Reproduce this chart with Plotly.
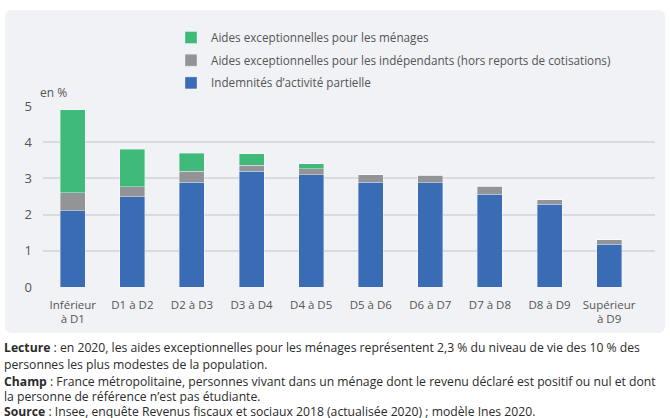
import plotly.graph_objects as go

categories = ["Inférieur<br>à D1", "D1 à D2", "D2 à D3", "D3 à D4", "D4 à D5",
              "D5 à D6", "D6 à D7", "D7 à D8", "D8 à D9", "Supérieur<br>à D9"]
activite_partielle = [2.1, 2.5, 2.9, 3.2, 3.1, 2.9, 2.88, 2.56, 2.28, 1.18]
independants = [0.5, 0.27, 0.3, 0.16, 0.17, 0.2, 0.21, 0.23, 0.13, 0.13]
menages = [2.3, 1.03, 0.5, 0.32, 0.14, 0, 0, 0, 0, 0]

series_names = ["Indemnités d’activité partielle",
                "Aides exceptionnelles pour les indépendants (hors reports de cotisations)",
                "Aides exceptionnelles pour les ménages"]
colors = ["#3a6cb5", "#929497", "#3fba7a"]
legend_ranks = [3, 2, 1]

W, H = 670, 418
ML, MR, MT, MB = 43, 15, 106, 131
PW, PH = W - ML - MR, H - MT - MB


def px(x):
    return (x - ML) / PW


def py(y):
    return (H - MB - y) / PH


lab = "Open Sans, Noto Sans, sans-serif"
body = "Open Sans, Noto Sans, sans-serif"

fig = go.Figure()
for name, vals, col, rk in zip(series_names, [activite_partielle, independants, menages], colors, legend_ranks):
    fig.add_trace(go.Bar(x=categories, y=vals, name=name, legendgroup=name, legendrank=rk,
                         marker=dict(color=col, line=dict(width=0.8, color="rgba(255,255,255,0.45)"))))

# rounded panel
x0, x1, y0, y1, r = 5, 665, 10, 333, 7
path = (f"M {px(x0 + r)},{py(y0)} L {px(x1 - r)},{py(y0)} Q {px(x1)},{py(y0)} {px(x1)},{py(y0 + r)} "
        f"L {px(x1)},{py(y1 - r)} Q {px(x1)},{py(y1)} {px(x1 - r)},{py(y1)} "
        f"L {px(x0 + r)},{py(y1)} Q {px(x0)},{py(y1)} {px(x0)},{py(y1 - r)} "
        f"L {px(x0)},{py(y0 + r)} Q {px(x0)},{py(y0)} {px(x0 + r)},{py(y0)} Z")
fig.add_shape(type="path", path=path, xref="paper", yref="paper",
              fillcolor="#f0f2f5", line=dict(width=0), layer="below")

annotations = [dict(text="en %", x=px(38), y=py(92), xref="paper", yref="paper",
                    xanchor="left", yanchor="middle", showarrow=False,
                    font=dict(family=lab, size=12, color="#555"))]

footer = [
    (347, "<b>Lecture</b> : en 2020, les aides exceptionnelles pour les ménages représentent 2,3 % du niveau de vie des 10 % des"),
    (364, "personnes les plus modestes de la population."),
    (381, "<b>Champ</b> : France métropolitaine, personnes vivant dans un ménage dont le revenu déclaré est positif ou nul et dont"),
    (396.5, "la personne de référence n’est pas étudiante."),
    (411, "<b>Source</b> : Insee, enquête Revenus fiscaux et sociaux 2018 (actualisée 2020) ; modèle Ines 2020."),
]
for yy, t in footer:
    annotations.append(dict(text=t, x=px(2), y=py(yy), xref="paper", yref="paper",
                            xanchor="left", yanchor="middle", showarrow=False,
                            font=dict(family=body, size=12.2, color="#2b2b2b")))

fig.update_layout(
    width=W, height=H,
    margin=dict(l=ML, r=MR, t=MT, b=MB),
    paper_bgcolor="white", plot_bgcolor="rgba(0,0,0,0)",
    barmode="stack", bargap=0.58,
    showlegend=True,
    legend=dict(x=px(171), y=py(23), xanchor="left", yanchor="top",
                traceorder="grouped", tracegroupgap=3.7,
                bgcolor="rgba(0,0,0,0)",
                font=dict(family=lab, size=11.7, color="#555")),
    xaxis=dict(range=[-0.5, 9.77], showgrid=False, zeroline=False, showline=False,
               ticks="", ticklabelstandoff=9,
               tickfont=dict(family=lab, size=11.5, color="#555")),
    yaxis=dict(range=[0, 5], dtick=1, showgrid=True, gridcolor="#d9dbde", gridwidth=1.5,
               zeroline=False, showline=False, ticks="", ticklabelstandoff=10,
               tickfont=dict(family=lab, size=13, color="#555")),
    annotations=annotations,
)

fig.write_html("out.html", config={"displayModeBar": False},
               post_script="document.body.style.margin='0';document.body.style.overflow='hidden';")
